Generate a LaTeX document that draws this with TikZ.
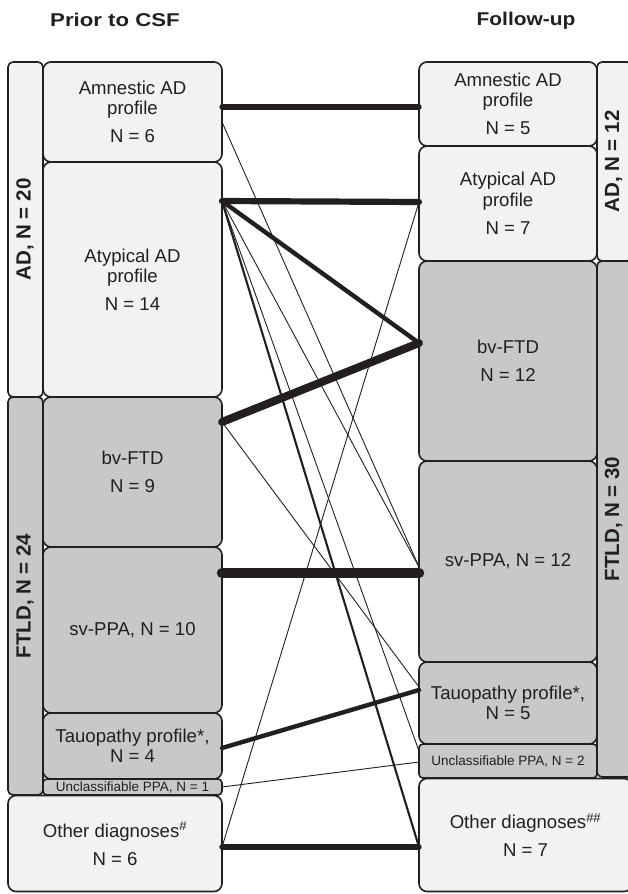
\documentclass[tikz,border=0pt]{standalone}
\usepackage{fontspec}
\usepackage{graphicx}
\setmainfont{Liberation Sans}
\usetikzlibrary{calc}
\definecolor{lightfill}{HTML}{F1F2F4}
\definecolor{greyfill}{HTML}{C7C8CA}
\definecolor{ink}{HTML}{231F20}
\begin{document}
\begin{tikzpicture}[x=1pt,y=-1pt,
  box/.style={draw=ink, line width=1.6pt, rounded corners=8pt, inner sep=0pt, outer sep=0pt,
    align=center, text=ink, font=\fontsize{18.6}{20.5}\selectfont},
  lbox/.style={box, fill=lightfill},
  gbox/.style={box, fill=greyfill},
  smallbox/.style={gbox, rounded corners=4pt, font=\fontsize{13.5}{15}\selectfont},
  bar/.style={draw=ink, line width=1.6pt, rounded corners=5pt, inner sep=0pt, outer sep=0pt, minimum width=35pt},
  grouplabel/.style={rotate=90, text=ink, font=\fontsize{20.5}{22}\selectfont\bfseries},
  titlelabel/.style={text=ink, font=\fontsize{18.5}{20}\selectfont\bfseries},
  conn/.style={draw=ink, line cap=round},
  thin/.style={conn, line width=0.9pt}
]
\useasboundingbox (0,0) rectangle (628,894);
\clip (0,0) rectangle (628,894);
\fill[white] (0,0) rectangle (628,894);

% titles
\node[titlelabel] (title1) at (115,20) {\scalebox{1.2}[1]{Prior to CSF}};
\node[titlelabel] (title2) at (526,21) {\scalebox{1.13}[1]{Follow-up}};

% group bars
\node[bar, fill=lightfill, minimum height=335pt] (barLAD) at (25.5,229.5) {};
\node[bar, fill=greyfill, minimum height=398pt] (barLFT) at (25.5,596) {};
\node[bar, fill=lightfill, minimum height=199pt] (barRAD) at (614.5,161.5) {};
\node[bar, fill=greyfill, minimum height=516pt] (barRFT) at (614.5,519) {};
\node[grouplabel] (gLAD) at (25,229.5) {AD, N = 20};
\node[grouplabel] (gLFT) at (25,596) {FTLD, N = 24};
\node[grouplabel] (gRAD) at (613.5,161.5) {AD, N = 12};
\node[grouplabel] (gRFT) at (613.5,519) {FTLD, N = 30};

% left boxes
\node[lbox, minimum width=179pt, minimum height=100pt] (Lam) at (132.5,112) {Amnestic AD\\profile\\[7.5pt]N = 6};
\node[lbox, minimum width=179pt, minimum height=235pt] (Lat) at (132.5,279.5) {Atypical AD\\profile\\[7pt]N = 14};
\node[gbox, minimum width=179pt, minimum height=150pt] (Lbv) at (132.5,472) {bv-FTD\\[7pt]N = 9};
\node[gbox, minimum width=179pt, minimum height=166pt] (Lsv) at (132.5,630) {sv-PPA, N = 10};
\node[gbox, minimum width=179pt, minimum height=66pt] (Ltau) at (132.5,746) {Tauopathy profile*,\\N = 4};
\node[smallbox, minimum width=179pt, minimum height=16pt] (Lunc) at (132.5,787) {Unclassifiable PPA, N = 1};
\node[lbox, minimum width=214pt, minimum height=96pt] (Loth) at (115,843.5) {Other diagnoses\textsuperscript{\#}\\[7.5pt]N = 6};

% right boxes
\node[lbox, minimum width=178pt, minimum height=84pt] (Ram) at (508,104) {Amnestic AD\\profile\\[7.5pt]N = 5};
\node[lbox, minimum width=178pt, minimum height=115pt] (Rat) at (508,203.5) {Atypical AD\\profile\\[7.5pt]N = 7};
\node[gbox, minimum width=178pt, minimum height=200pt] (Rbv) at (508,361) {bv-FTD\\[8pt]N = 12};
\node[gbox, minimum width=178pt, minimum height=201pt] (Rsv) at (508,561.5) {sv-PPA, N = 12};
\node[gbox, minimum width=178pt, minimum height=82pt] (Rtau) at (508,703) {Tauopathy profile*,\\N = 5};
\node[smallbox, minimum width=178pt, minimum height=34pt] (Runc) at (508,761) {Unclassifiable PPA, N = 2};
\node[lbox, minimum width=213pt, minimum height=113pt] (Roth) at (525.5,835) {Other diagnoses\textsuperscript{\#\#}\\[8pt]N = 7};

% connector end points
\coordinate (pLam1) at (Lam.east |- 0,107);
\coordinate (pLam2) at (Lam.east |- 0,122);
\coordinate (pLat) at (Lat.east |- 0,201);
\coordinate (pLbv) at (Lbv.east |- 0,422);
\coordinate (pLsv) at (Lsv.east |- 0,573);
\coordinate (pLtau) at (Ltau.east |- 0,748);
\coordinate (pLunc) at (Lunc.east |- 0,787);
\coordinate (pLoth) at (Loth.east |- 0,847);
\coordinate (pRam) at (Ram.west |- 0,107);
\coordinate (pRat) at (Rat.west |- 0,202);
\coordinate (pRbv) at (Rbv.west |- 0,343);
\coordinate (pRsv1) at (Rsv.west |- 0,567);
\coordinate (pRsv2) at (Rsv.west |- 0,573);
\coordinate (pRtau1) at (Rtau.west |- 0,687);
\coordinate (pRtau2) at (Rtau.west |- 0,690);
\coordinate (pRunc1) at (Runc.west |- 0,751);
\coordinate (pRunc2) at (Runc.west |- 0,762);
\coordinate (pRoth) at (Roth.west |- 0,847);

% connectors
\draw[thin] (pLam2) -- (pRsv1);
\draw[thin] (pLat) -- (pRsv1);
\draw[thin] (pLat) -- (pRunc1);
\draw[thin] (pLbv) -- (pRtau1);
\draw[thin] (pLunc) -- (pRunc2);
\draw[thin] (pLoth) -- (pRat);
\draw[conn, line width=2.1pt] (pLat) -- (pRoth);
\draw[conn, line width=5.3pt] (pLam1) -- (pRam);
\draw[conn, line width=6.2pt] (pLat) -- (pRat);
\draw[conn, line width=4.4pt] (pLat) -- (pRbv);
\draw[conn, line width=8pt] (pLbv) -- (pRbv);
\draw[conn, line width=10.5pt] (pLsv) -- (pRsv2);
\draw[conn, line width=4.4pt] (pLtau) -- (pRtau2);
\draw[conn, line width=5.3pt] (pLoth) -- (pRoth);
\end{tikzpicture}
\end{document}
